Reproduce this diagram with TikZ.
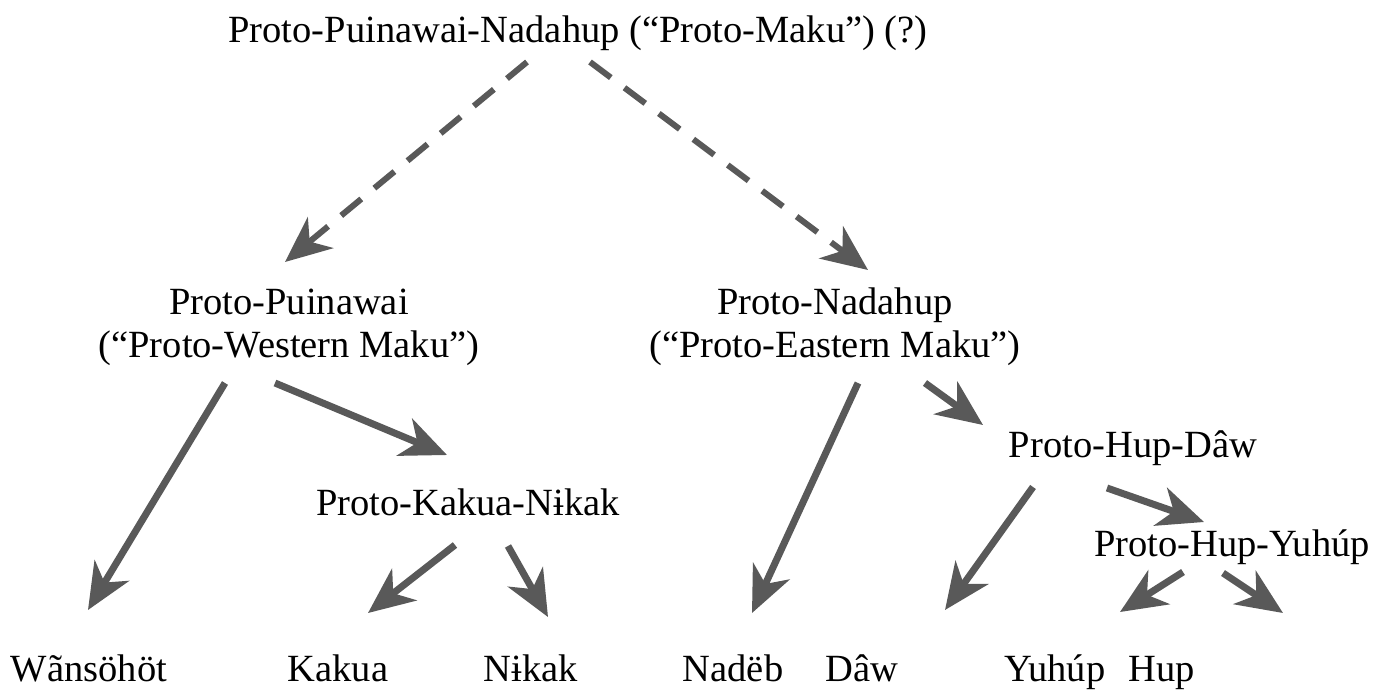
\documentclass[tikz,border=0pt]{standalone}
\usepackage{fontspec}
\setmainfont{Liberation Serif}
\usetikzlibrary{arrows.meta}
\begin{document}
\begin{tikzpicture}[x=1pt,y=-1pt,
  lbl/.style={inner sep=0pt, anchor=base, font=\fontsize{38.5}{43}\selectfont, align=center, text=black},
  arr/.style={draw=arrowgray, line width=7pt, -{Stealth[length=46pt,width=40pt,inset=14pt]}},
  darr/.style={arr, line width=6pt, dash pattern=on 26pt off 17pt}]
\definecolor{arrowgray}{HTML}{595959}
\useasboundingbox[fill=white] (0,0) rectangle (1381,693);
% nodes
\node[lbl] (ppn) at (578,43) {Proto-Puinawai-Nadahup (“Proto-Maku”) (?)};
\node[lbl] (pp) at (289,357) {Proto-Puinawai\\(“Proto-Western Maku”)};
\node[lbl] (pn) at (835,357) {Proto-Nadahup\\(“Proto-Eastern Maku”)};
\node[lbl] (pkn) at (468,515) {Proto-Kakua-Nɨkak};
\node[lbl] (phd) at (1133,457) {Proto-Hup-Dâw};
\node[lbl] (phy) at (1232,556) {Proto-Hup-Yuhúp};
\node[lbl] (wan) at (89,681) {Wãnsöhöt};
\node[lbl] (kak) at (338,681) {Kakua};
\node[lbl] (nik) at (531,681) {Nɨkak};
\node[lbl] (nad) at (733,681) {Nadëb};
\node[lbl] (daw) at (862,681) {Dâw};
\node[lbl] (yuh) at (1055,681) {Yuhúp};
\node[lbl] (hup) at (1162,681) {Hup};
% connector ends
\coordinate (a1) at (527,62);  \coordinate (b1) at (285,262);
\coordinate (a2) at (590,62);  \coordinate (b2) at (868,270);
\coordinate (a3) at (225,383); \coordinate (b3) at (88,610);
\coordinate (a4) at (275,383); \coordinate (b4) at (447,455);
\coordinate (a5) at (455,545); \coordinate (b5) at (368,613);
\coordinate (a6) at (508,546); \coordinate (b6) at (548,617);
\coordinate (a7) at (858,383); \coordinate (b7) at (752,613);
\coordinate (a8) at (925,383); \coordinate (b8) at (983,425);
\coordinate (a9) at (1033,487); \coordinate (b9) at (945,610);
\coordinate (a10) at (1107,488); \coordinate (b10) at (1204,522);
\coordinate (a11) at (1183,572); \coordinate (b11) at (1120,612);
\coordinate (a12) at (1223,573); \coordinate (b12) at (1283,613);
\draw[darr] (a1) -- (b1);
\draw[darr] (a2) -- (b2);
\foreach \i in {3,...,12} \draw[arr] (a\i) -- (b\i);
\end{tikzpicture}
\end{document}
